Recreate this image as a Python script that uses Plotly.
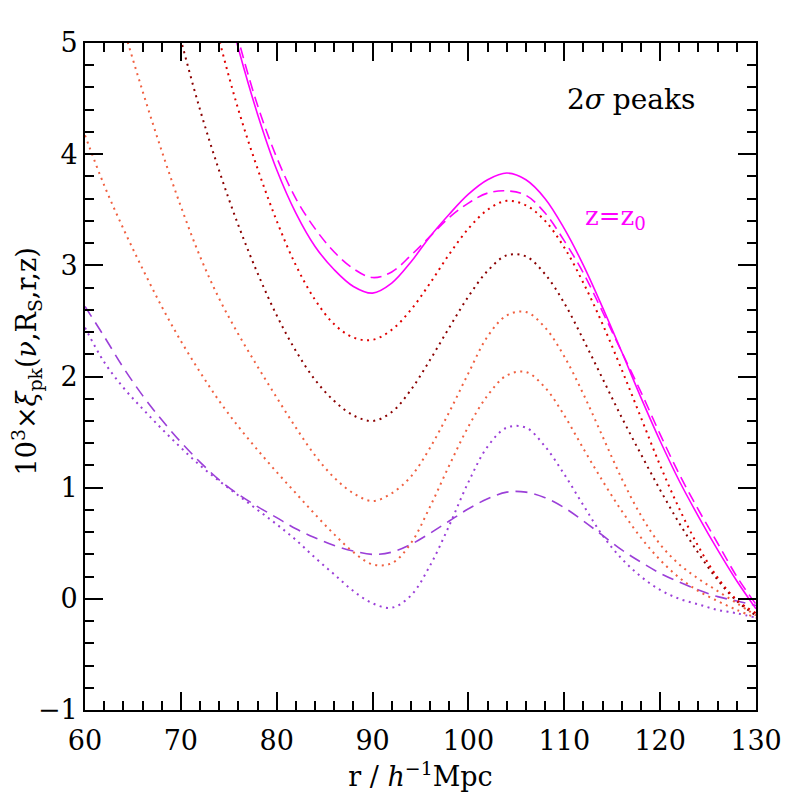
import plotly.graph_objects as go

# Separation r (h^-1 Mpc) sampling grid
R_GRID = [60, 62, 64, 66, 68, 70, 72, 74, 76, 78, 80, 82, 84, 86, 88, 90, 92, 94,
          96, 98, 100, 102, 104, 106, 108, 110, 112, 114, 116, 118, 120, 122, 124,
          126, 128, 130]

# z = z0, solid magenta
XI_Z0_SOLID = [None, None, None, None, None, None, None, 5.62, 4.95, 4.36, 3.86, 3.47,
               3.17, 2.96, 2.81, 2.75, 2.84, 3.03, 3.26, 3.46, 3.64, 3.77, 3.83, 3.77,
               3.60, 3.33, 3.00, 2.62, 2.22, 1.81, 1.42, 1.06, 0.74, 0.44, 0.16, -0.09]
# z = z0, dashed magenta
XI_Z0_DASHED = [None, None, None, None, None, None, None, 5.70, 5.03, 4.44, 3.97, 3.60,
                3.33, 3.12, 2.97, 2.89, 2.94, 3.09, 3.26, 3.43, 3.56, 3.65, 3.67, 3.63,
                3.47, 3.22, 2.93, 2.58, 2.22, 1.86, 1.48, 1.12, 0.80, 0.50, 0.20, -0.05]
# dotted curves (red, dark red, tomato x2, purple)
XI_RED = [None, None, None, None, None, None, 5.75, 5.03, 4.40, 3.87, 3.40, 3.00,
          2.69, 2.47, 2.35, 2.33, 2.42, 2.60, 2.84, 3.10, 3.33, 3.50, 3.58, 3.54,
          3.40, 3.16, 2.84, 2.47, 2.06, 1.63, 1.20, 0.81, 0.47, 0.19, -0.01, -0.13]
XI_DARKRED = [None, None, None, None, 5.72, 5.03, 4.40, 3.85, 3.36, 2.93, 2.55, 2.23,
              1.97, 1.78, 1.65, 1.60, 1.68, 1.88, 2.15, 2.44, 2.72, 2.95, 3.09, 3.08,
              2.92, 2.66, 2.33, 1.98, 1.63, 1.30, 0.98, 0.68, 0.41, 0.17, -0.02, -0.15]
XI_TOMATO_A = [None, 5.74, 5.14, 4.57, 4.03, 3.53, 3.08, 2.70, 2.38, 2.09, 1.81, 1.54,
               1.29, 1.09, 0.95, 0.88, 0.95, 1.10, 1.36, 1.68, 2.03, 2.36, 2.55, 2.58,
               2.44, 2.18, 1.84, 1.46, 1.08, 0.75, 0.49, 0.31, 0.18, 0.07, -0.04, -0.15]
XI_TOMATO_B = [4.17, 3.72, 3.33, 2.97, 2.63, 2.32, 2.04, 1.78, 1.55, 1.34, 1.14, 0.95,
               0.76, 0.58, 0.42, 0.31, 0.32, 0.50, 0.83, 1.20, 1.55, 1.83, 2.01, 2.04,
               1.90, 1.65, 1.35, 1.06, 0.79, 0.55, 0.35, 0.19, 0.07, -0.02, -0.10, -0.17]
XI_PURPLE_DOT = [2.44, 2.13, 1.90, 1.71, 1.53, 1.36, 1.20, 1.06, 0.93, 0.80, 0.67, 0.53,
                 0.37, 0.22, 0.07, -0.04, -0.08, 0.03, 0.30, 0.66, 1.05, 1.37, 1.54, 1.54,
                 1.37, 1.12, 0.84, 0.57, 0.36, 0.20, 0.08, 0.00, -0.05, -0.10, -0.13, -0.17]
# dashed purple
XI_PURPLE_DASH = [2.63, 2.36, 2.08, 1.83, 1.61, 1.41, 1.23, 1.07, 0.94, 0.83, 0.73, 0.63,
                  0.55, 0.48, 0.43, 0.40, 0.42, 0.49, 0.59, 0.70, 0.81, 0.90, 0.96, 0.96,
                  0.91, 0.82, 0.70, 0.57, 0.44, 0.33, 0.23, 0.15, 0.08, 0.02, -0.02, -0.06]

X_TICKS = [60, 70, 80, 90, 100, 110, 120, 130]
Y_TICKS = [-1, 0, 1, 2, 3, 4, 5]
Y_TICK_LABELS = ["\u22121", "0", "1", "2", "3", "4", "5"]

FONT = "DejaVu Serif"
MAGENTA = "#ff00ff"
RED = "#e00000"
DARKRED = "#8b0000"
TOMATO = "#f06040"
PURPLE = "#9b3fd8"
DOT = "2px,4.5px"

series = [
    (XI_PURPLE_DOT, PURPLE, DOT, 2),
    (XI_PURPLE_DASH, PURPLE, "12px,7px", 1.6),
    (XI_TOMATO_B, TOMATO, DOT, 2),
    (XI_TOMATO_A, TOMATO, DOT, 2),
    (XI_DARKRED, DARKRED, DOT, 2),
    (XI_RED, RED, DOT, 2),
    (XI_Z0_DASHED, MAGENTA, "11px,6px", 1.6),
    (XI_Z0_SOLID, MAGENTA, "solid", 1.6),
]

fig = go.Figure()
for ys, col, dash, w in series:
    fig.add_trace(go.Scatter(x=R_GRID, y=ys, mode="lines",
                             line=dict(color=col, dash=dash, width=w, shape="spline", smoothing=1.0),
                             showlegend=False, hoverinfo="skip"))

axis_common = dict(showgrid=False, zeroline=False, showline=True, linecolor="black",
                   linewidth=1.6, mirror="allticks", ticks="inside", tickcolor="black",
                   tickwidth=1.6, ticklen=18, automargin=False,
                   tickfont=dict(family=FONT, size=27, color="black"))

fig.update_xaxes(range=[60, 130], tickvals=X_TICKS, ticktext=[str(v) for v in X_TICKS],
                 minor=dict(ticks="inside", dtick=2, ticklen=9, tickcolor="black", tickwidth=1.6),
                 ticklabelstandoff=6,
                 title=dict(text="r / <i>h</i><sup>\u22121</sup>Mpc", font=dict(family=FONT, size=27, color="black"),
                            standoff=12),
                 **axis_common)
fig.update_yaxes(range=[-1, 5], tickvals=Y_TICKS, ticktext=Y_TICK_LABELS,
                 minor=dict(ticks="inside", dtick=0.2, ticklen=9, tickcolor="black", tickwidth=1.6),
                 **axis_common)

# y-axis title as a rotated annotation so it can be placed exactly
fig.add_annotation(xref="paper", yref="paper", x=-0.087, y=0.522, xanchor="center", yanchor="middle",
                   textangle=-90, showarrow=False,
                   text="10<sup>3</sup>\u00d7<i>\u03be</i><sub>pk</sub>(<i>\u03bd</i>,R<sub>S</sub>,r,z)",
                   font=dict(family=FONT, size=27, color="black"))

fig.add_annotation(xref="paper", yref="paper", x=0.814, y=0.915, xanchor="center", yanchor="middle",
                   showarrow=False, text="2<i>\u03c3</i> peaks",
                   font=dict(family=FONT, size=28, color="black"))
fig.add_annotation(xref="paper", yref="paper", x=0.79, y=0.738, xanchor="center", yanchor="middle",
                   showarrow=False, text="z=z<sub>0</sub>",
                   font=dict(family=FONT, size=26, color=MAGENTA))

fig.update_layout(width=789, height=789, plot_bgcolor="white", paper_bgcolor="white",
                  margin=dict(l=77, r=41, t=35, b=87))

fig.write_html("out.html")
